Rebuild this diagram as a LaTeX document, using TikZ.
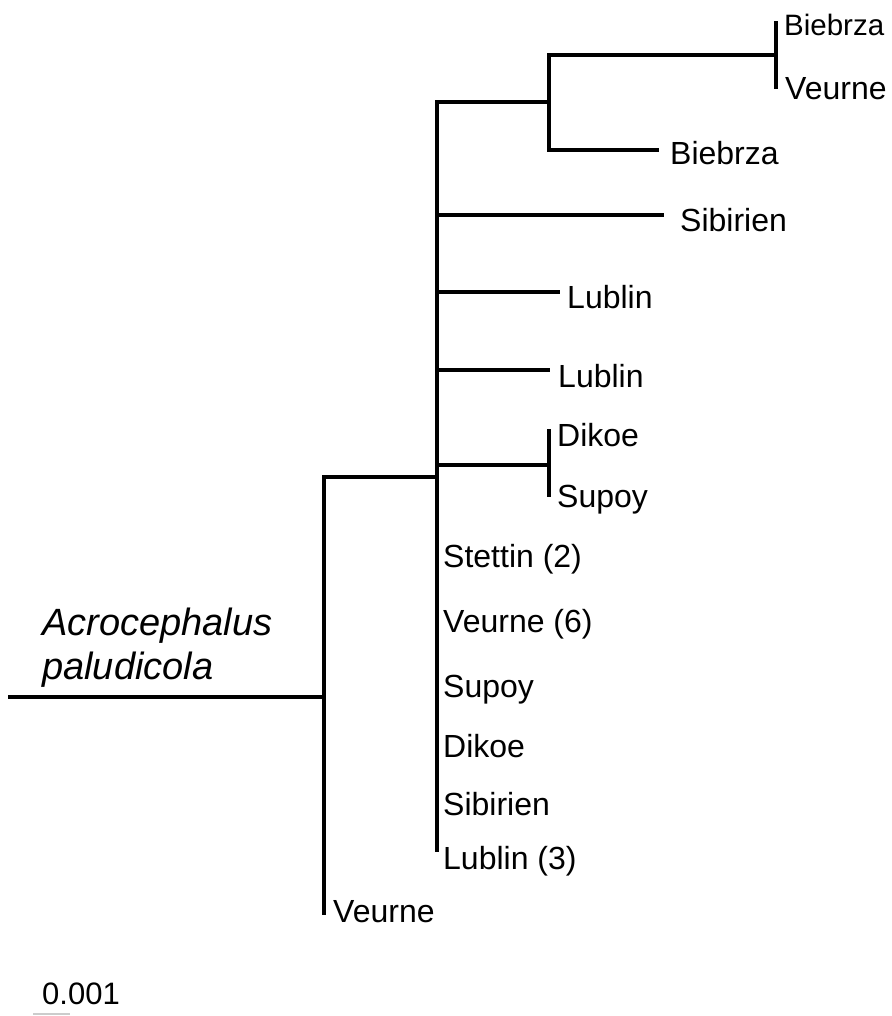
\documentclass[tikz,border=0pt]{standalone}
\usepackage{fontspec}
\setmainfont{Liberation Sans}
\tikzset{
  branch/.style={line width=3.2pt,line cap=rect},
  leaf/.style={anchor=base west,inner sep=0pt,font=\fontsize{32}{34}\selectfont},
  species/.style={anchor=base west,inner sep=0pt,align=left,font=\fontsize{38}{44}\selectfont\itshape}
}
\begin{document}
\begin{tikzpicture}[x=1pt,y=-1pt]
  \useasboundingbox (0,0) rectangle (891,1016);
  % internal nodes
  \coordinate (base) at (10,697);
  \coordinate (n0) at (324,697);
  \coordinate (n1) at (437,477);
  \coordinate (n2) at (549,102);
  \coordinate (n3) at (549,465);
  \coordinate (n4) at (776,55);
  % tips
  \coordinate (t1) at (776,23);
  \coordinate (t2) at (776,87);
  \coordinate (t3) at (657,150);
  \coordinate (t4) at (662,215);
  \coordinate (t5) at (558,292);
  \coordinate (t6) at (548,370);
  \coordinate (t7) at (549,431);
  \coordinate (t8) at (549,495);
  \coordinate (t9) at (437,850);
  \coordinate (t10) at (324,913);
  % branches
  \draw[branch] (base) -- (n0);
  \draw[branch] (n0) |- (n1);
  \draw[branch] (n0) |- (t10);
  \draw[branch] (n1) |- (n2);
  \draw[branch] (n1) |- (n3);
  \draw[branch] (n1) |- (t9);
  \foreach \t in {t4,t5,t6} {
    \draw[branch] (n1) |- (\t);
  }
  \draw[branch] (n2) |- (n4);
  \draw[branch] (n2) |- (t3);
  \draw[branch] (n4) |- (t1);
  \draw[branch] (n4) |- (t2);
  \draw[branch] (n3) |- (t7);
  \draw[branch] (n3) |- (t8);
  % labels
  \node[leaf,font=\fontsize{29.5}{32}\selectfont] (l1) at (784,36) {Biebrza};
  \node[leaf] (l2) at (785,100) {Veurne};
  \node[leaf] (l3) at (670,165) {Biebrza};
  \node[leaf] (l4) at (680,232) {Sibirien};
  \node[leaf] (l5) at (567,308) {Lublin};
  \node[leaf] (l6) at (558,387) {Lublin};
  \node[leaf] (l7) at (557,446) {Dikoe};
  \node[leaf] (l8) at (557,507) {Supoy};
  \foreach \y/\lab [count=\i] in {567/Stettin (2), 632/Veurne (6), 697/Supoy, 757/Dikoe, 815/Sibirien, 869/Lublin (3)} {
    \node[leaf] (s\i) at (443,\y) {\lab};
  }
  \node[leaf] (l9) at (333,922) {Veurne};
  \node[species] (sp) at (42,679) {Acrocephalus\\paludicola};
  % scale bar
  \node[leaf,font=\fontsize{31}{33}\selectfont] (scale) at (42,1004) {0.001};
  \draw[line width=2pt,gray!40] (33,1014) -- (70,1014);
\end{tikzpicture}
\end{document}
